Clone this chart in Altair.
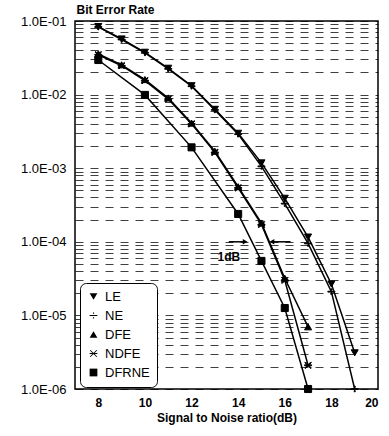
import altair as alt
import pandas as pd

FONT = "Liberation Sans"

series_order = ["LE", "NE", "DFE", "NDFE", "DFRNE"]

snr_le = [8, 9, 10, 11, 12, 13, 14, 15, 16, 17, 18, 19]
ber_le = [0.084, 0.057, 0.0376, 0.0228, 0.0132, 0.0063, 0.00298, 0.00118, 3.9e-4, 1.16e-4, 2.67e-5, 3.1e-6]

snr_ne = [8, 9, 10, 11, 12, 13, 14, 15, 16, 17, 18, 19]
ber_ne = [0.083, 0.056, 0.037, 0.0224, 0.013, 0.0062, 0.0029, 0.00106, 3.3e-4, 9.5e-5, 2.1e-5, 1.0e-6]

snr_dfe = [8, 9, 10, 11, 12, 13, 14, 15, 16, 17]
ber_dfe = [0.0358, 0.0254, 0.016, 0.009, 0.0041, 0.0017, 5.6e-4, 1.8e-4, 3.2e-5, 7.0e-6]

snr_ndfe = [8, 9, 10, 11, 12, 13, 14, 15, 16, 17]
ber_ndfe = [0.0348, 0.0247, 0.0155, 0.0087, 0.004, 0.00164, 5.4e-4, 1.72e-4, 3.0e-5, 2.1e-6]

snr_dfrne = [8, 10, 12, 14, 15, 16, 17]
ber_dfrne = [0.0295, 0.0099, 0.00192, 2.39e-4, 5.5e-5, 1.26e-5, 1.0e-6]

x_ticks = [8, 10, 12, 14, 16, 18, 20]
grid_values = [m * 10.0 ** k for k in range(-6, -1) for m in range(1, 10)] + [0.1]

# annotation "1dB"
arrow_right_x = [13.6]
arrow_right_x2 = [14.3]
arrow_left_x = [16.25]
arrow_left_x2 = [15.45]
arrow_y = [1.0e-4]
note_x = [13.6]
note_y = [6.3e-5]
note_text = ["1dB"]

rows = []
for name, xs, ys in [("LE", snr_le, ber_le), ("NE", snr_ne, ber_ne), ("DFE", snr_dfe, ber_dfe),
                     ("NDFE", snr_ndfe, ber_ndfe), ("DFRNE", snr_dfrne, ber_dfrne)]:
    for a, b in zip(xs, ys):
        rows.append({"series": name, "snr": a, "ber": b})
df = pd.DataFrame(rows)

div_path = ("M-1,-0.12L1,-0.12L1,0.12L-1,0.12Z"
            "M-0.15,-0.8L0.15,-0.8L0.15,-0.45L-0.15,-0.45Z"
            "M-0.15,0.45L0.15,0.45L0.15,0.8L-0.15,0.8Z")
star_path = ("M-1,-0.12L1,-0.12L1,0.12L-1,0.12Z"
             "M-0.765,-0.935L0.935,0.765L0.765,0.935L-0.935,-0.765Z"
             "M-0.765,0.935L-0.935,0.765L0.765,-0.935L0.935,-0.765Z")
shapes = ["triangle-down", div_path, "triangle-up", star_path, "square"]

xscale = alt.Scale(domain=[7, 20], nice=False, zero=False)
yscale = alt.Scale(type="log", domain=[1e-6, 1e-1], nice=False)

label_expr = ("abs(log(datum.value)/LN10 - round(log(datum.value)/LN10)) < 0.01 ? "
              "'1.0E-0' + abs(round(log(datum.value)/LN10)) : ''")

x_enc = alt.X("snr:Q", scale=xscale, axis=alt.Axis(
    values=x_ticks, title="Signal to Noise ratio(dB)", grid=False, domain=False, ticks=False,
    labelFont=FONT, labelFontSize=12, labelFontWeight="bold", labelPadding=8, labelColor="black",
    titleFont=FONT, titleFontSize=12, titleFontWeight="bold", titlePadding=4, titleColor="black"))
y_enc = alt.Y("ber:Q", scale=yscale, axis=alt.Axis(
    values=grid_values, labelExpr=label_expr, labelOverlap=False, grid=True, gridDash=[8, 7],
    gridColor="black", gridOpacity=0.75, gridWidth=1, domain=False, ticks=False,
    labelFont=FONT, labelFontSize=13, labelPadding=9, labelColor="black",
    title="Bit Error Rate", titleAngle=0, titleX=1, titleY=-5, titleAlign="left",
    titleBaseline="bottom", titleFont=FONT, titleFontSize=12, titleFontWeight="bold", titleColor="black"))

lines = alt.Chart(df).mark_line(color="black", strokeWidth=1.5, clip=False).encode(
    x=x_enc, y=y_enc, detail="series:N", order="snr:Q")

points = alt.Chart(df).mark_point(fill="black", stroke="black", strokeWidth=1, opacity=1,
                                  size=50, clip=False).encode(
    x="snr:Q", y="ber:Q",
    shape=alt.Shape("series:N", scale=alt.Scale(domain=series_order, range=shapes),
                    legend=alt.Legend(title=None, orient="none", legendX=5, legendY=262,
                                      fillColor="white", strokeColor="black", cornerRadius=6,
                                      padding=7, labelFont=FONT, labelFontSize=13,
                                      labelColor="black", rowPadding=5, symbolSize=60,
                                      symbolFillColor="black", symbolStrokeColor="black",
                                      symbolStrokeWidth=1, labelOffset=5)))

arr_df = pd.DataFrame({"x1": arrow_right_x + arrow_left_x, "x2": arrow_right_x2 + arrow_left_x2,
                       "y": arrow_y * 2, "dir": ["right", "left"]})
rules = alt.Chart(arr_df).mark_rule(color="black", strokeWidth=1.5).encode(
    x="x1:Q", x2="x2:Q", y="y:Q")
heads = alt.Chart(arr_df).mark_point(filled=True, color="black", opacity=1, size=30).encode(
    x="x2:Q", y="y:Q",
    shape=alt.Shape("dir:N", scale=alt.Scale(domain=["right", "left"],
                                             range=["triangle-right", "triangle-left"]), legend=None))

note_df = pd.DataFrame({"x": note_x, "y": note_y, "t": note_text})
note = alt.Chart(note_df).mark_text(font=FONT, fontSize=12, fontWeight="bold", color="black").encode(
    x="x:Q", y="y:Q", text="t:N")

chart = alt.layer(lines, points, rules, heads, note).resolve_scale(shape="independent").properties(
    width=303, height=368,
    padding={"left": 75, "top": 21, "right": 11, "bottom": 47},
    autosize=alt.AutoSizeParams(type="none"),
    background="white",
).configure_view(stroke="black", strokeWidth=1.5)

chart.save("out.html", embed_options={"renderer": "svg", "actions": False})
